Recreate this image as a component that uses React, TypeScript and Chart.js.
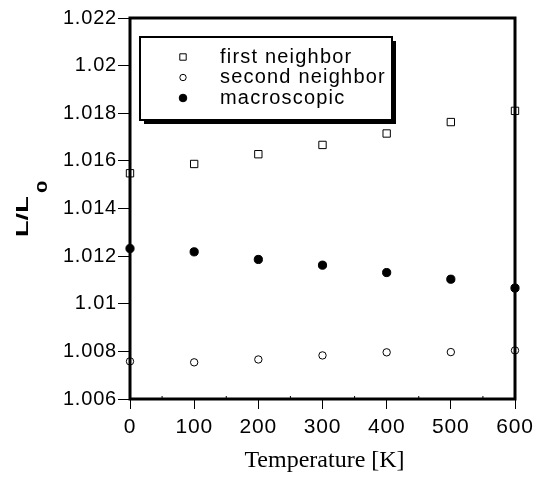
import React, { useEffect, useRef } from "react";
import { Chart, registerables } from "chart.js";

Chart.register(...registerables);

const temperatures = [0, 100, 200, 300, 400, 500, 600];
const firstNeighbor = [1.01548, 1.01587, 1.01628, 1.01667, 1.01715, 1.01763, 1.0181];
const secondNeighbor = [1.00758, 1.00754, 1.00766, 1.00783, 1.00796, 1.00797, 1.00804];
const macroscopic = [1.01232, 1.01218, 1.01186, 1.01162, 1.01131, 1.01103, 1.01066];
const seriesLabels = ["first neighbor", "second neighbor", "macroscopic"];
const yTickLabels: Record<string, string> = {
  "1.006": "1.006", "1.008": "1.008", "1.01": "1.01", "1.012": "1.012",
  "1.014": "1.014", "1.016": "1.016", "1.018": "1.018", "1.02": "1.02", "1.022": "1.022",
};
const xTitle = "Temperature [K]";
const yTitleMain = "L/L";
const yTitleSub = "0";

const SANS = "'Liberation Sans', Arial, sans-serif";
const SERIF = "'Liberation Serif', 'Times New Roman', serif";

const framePlugin = {
  id: "frame",
  beforeDraw(chart: any) {
    chart.ctx.letterSpacing = "0.8px";
  },
  afterDatasetsDraw(chart: any) {
    const { ctx, chartArea: a, scales } = chart;
    ctx.save();
    ctx.strokeStyle = "#000";
    ctx.lineWidth = 3;
    ctx.strokeRect(a.left, a.top, a.right - a.left, a.bottom - a.top);
    ctx.lineWidth = 1;
    for (let v = 50; v < 600; v += 100) {
      const x = scales.x.getPixelForValue(v);
      ctx.beginPath();
      ctx.moveTo(x, a.bottom);
      ctx.lineTo(x, a.bottom - 3);
      ctx.stroke();
    }
    ctx.restore();
  },
  afterDraw(chart: any) {
    const { ctx, chartArea: a } = chart;
    ctx.save();
    // legend box with shadow
    const bx = 140, by = 37, bw = 252, bh = 83;
    ctx.fillStyle = "#000";
    ctx.fillRect(bx + 4, by + 4, bw, bh);
    ctx.fillStyle = "#fff";
    ctx.fillRect(bx, by, bw, bh);
    ctx.lineWidth = 2;
    ctx.strokeStyle = "#000";
    ctx.strokeRect(bx, by, bw, bh);
    const rows = [57, 77.5, 98];
    chart.data.datasets.forEach((ds: any, i: number) => {
      const y = rows[i];
      const x = 183;
      ctx.lineWidth = 1;
      ctx.strokeStyle = "#000";
      ctx.fillStyle = ds.pointBackgroundColor;
      ctx.beginPath();
      if (ds.pointStyle === "rect") {
        ctx.rect(x - 3.2, y - 3.2, 6.4, 6.4);
      } else {
        ctx.arc(x, y, ds.pointBackgroundColor === "#000" ? 3.8 : 3.2, 0, Math.PI * 2);
      }
      ctx.fill();
      ctx.stroke();
      ctx.fillStyle = "#000";
      ctx.letterSpacing = "1.2px";
      ctx.font = `20px ${SANS}`;
      ctx.textBaseline = "middle";
      ctx.textAlign = "left";
      ctx.fillText(ds.label, 220, y);
    });
    // x title
    ctx.letterSpacing = "0px";
    ctx.font = `24px ${SERIF}`;
    ctx.textAlign = "center";
    ctx.textBaseline = "alphabetic";
    ctx.fillText(xTitle, (a.left + a.right) / 2 + 2, 467);
    // y title
    ctx.translate(28, 237);
    ctx.rotate(-Math.PI / 2);
    ctx.scale(1.6, 1);
    ctx.letterSpacing = "0px";
    ctx.font = `bold 17px ${SANS}`;
    ctx.textBaseline = "alphabetic";
    ctx.textAlign = "left";
    const w1 = ctx.measureText(yTitleMain).width;
    ctx.fillText(yTitleMain, 0, 0);
    ctx.font = `bold 14px ${SANS}`;
    ctx.fillText(yTitleSub, w1 + 2, 19);
    ctx.restore();
  },
};

export default function App() {
  const ref = useRef<HTMLCanvasElement>(null);
  useEffect(() => {
    const chart = new Chart(ref.current!, {
      type: "scatter",
      data: {
        datasets: [
          {
            label: seriesLabels[0],
            data: temperatures.map((t, i) => ({ x: t, y: firstNeighbor[i] })),
            pointStyle: "rect",
            pointRadius: 5.2,
            pointBackgroundColor: "#fff",
            pointBorderColor: "#000",
            pointBorderWidth: 1,
            clip: false,
          },
          {
            label: seriesLabels[1],
            data: temperatures.map((t, i) => ({ x: t, y: secondNeighbor[i] })),
            pointStyle: "circle",
            pointRadius: 3.7,
            pointBackgroundColor: "#fff",
            pointBorderColor: "#000",
            pointBorderWidth: 1,
            clip: false,
          },
          {
            label: seriesLabels[2],
            data: temperatures.map((t, i) => ({ x: t, y: macroscopic[i] })),
            pointStyle: "circle",
            pointRadius: 4.1,
            pointBackgroundColor: "#000",
            pointBorderColor: "#000",
            pointBorderWidth: 1,
            clip: false,
          },
        ] as any,
      },
      options: {
        animation: false,
        responsive: false,
        maintainAspectRatio: false,
        layout: { padding: { top: 18, right: 30, left: 0, bottom: 0 } },
        plugins: { legend: { display: false }, tooltip: { enabled: false } },
        scales: {
          x: {
            type: "linear",
            min: 0,
            max: 600,
            border: { display: false },
            grid: { drawOnChartArea: false, color: "#000", tickLength: 10 },
            ticks: {
              stepSize: 100,
              color: "#000",
              font: { family: SANS, size: 21 },
              padding: 6,
              maxRotation: 0,
            },
            afterFit(scale: any) {
              scale.height = 79;
            },
          },
          y: {
            type: "linear",
            min: 1.006,
            max: 1.022,
            border: { display: false },
            grid: { drawOnChartArea: false, color: "#000", tickLength: 12 },
            ticks: {
              stepSize: 0.002,
              color: "#000",
              font: { family: SANS, size: 20 },
              padding: 1,
              callback: (v: any) => yTickLabels[String(Number(Number(v).toFixed(3)))] ?? "",
            },
            afterFit(scale: any) {
              scale.width = 130;
            },
          },
        },
      } as any,
      plugins: [framePlugin],
    });
    return () => chart.destroy();
  }, []);
  return (
    <div style={{ position: "fixed", left: 0, top: 0, width: 545, height: 478, background: "#fff" }}>
      <canvas ref={ref} width={545} height={478} style={{ width: 545, height: 478 }} />
    </div>
  );
}
